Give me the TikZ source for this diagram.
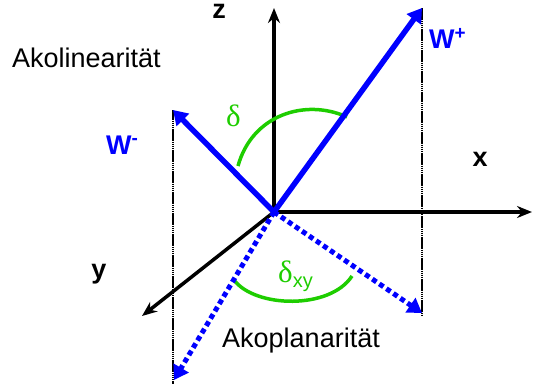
\documentclass[tikz,border=0pt]{standalone}
\usepackage{fontspec}
\setmainfont{Liberation Sans}
\newfontfamily\grkfont{Liberation Serif}
\usetikzlibrary{arrows.meta}
\definecolor{wBlue}{RGB}{0,0,255}
\definecolor{dGreen}{RGB}{30,205,0}

\begin{document}
\begin{tikzpicture}[x=1pt, y=-1pt,
    axis/.style={line width=3.5pt, -{Stealth[length=15pt,width=12pt]}},
    wvec/.style={wBlue, line width=5.5pt, -{Triangle[length=14pt,width=17pt]}},
    wproj/.style={wBlue, line width=5pt, dash pattern=on 5pt off 3.5pt, -{Triangle[length=14pt,width=17pt]}},
    drop/.style={line width=1.2pt, dash pattern=on 1.6pt off 0.5pt},
    angarc/.style={dGreen, line width=3.5pt},
    lbl/.style={inner sep=0pt, anchor=base west, font=\fontsize{27}{30}\selectfont},
    axlbl/.style={inner sep=0pt, anchor=base, font=\fontsize{27}{30}\selectfont\bfseries},
    wlbl/.style={inner sep=0pt, anchor=base west, text=wBlue, font=\fontsize{27}{30}\selectfont\bfseries},
    anglbl/.style={inner sep=0pt, anchor=base west, text=dGreen, font=\fontsize{31}{33}\selectfont\grkfont}]
  \useasboundingbox (0,0) rectangle (534,385);

  % origin, axis ends, vector ends
  \coordinate (O) at (274,212);
  \coordinate (zTip) at (274,8);
  \coordinate (xTip) at (532,212);
  \coordinate (yTip) at (142,316);
  \coordinate (wp) at (422,8);
  \coordinate (wm) at (173,110);
  \coordinate (wpxy) at (422,313);
  \coordinate (wmxy) at (174,380);
  \coordinate (wpEnd) at (422,315);
  \coordinate (wmEnd) at (173,384);

  % drop lines
  \draw[drop] (wp) -- (wpEnd);
  \draw[drop] (wm) -- (wmEnd);

  % axes
  \draw[axis] (O) -- (zTip);
  \draw[axis] (O) -- (xTip);
  \draw[axis] (O) -- (yTip);

  % angles
  \coordinate (d1) at (238,166);
  \coordinate (d2) at (347,117);
  \coordinate (e1) at (234,280);
  \coordinate (e2) at (352,276);
  \draw[angarc] (d1) .. controls (252,115) and (305,98) .. (d2);
  \draw[angarc] (e1) .. controls (255,308) and (330,310) .. (e2);

  % W vectors and their projections
  \draw[wproj] (O) -- (wpxy);
  \draw[wproj] (O) -- (wmxy);
  \draw[wvec] (O) -- (wp);
  \draw[wvec] (O) -- (wm);

  % labels
  \node[axlbl] (zl) at (219,19) {z};
  \node[axlbl] (xl) at (480,166) {x};
  \node[axlbl] (yl) at (99,278) {y};
  \node[wlbl] (wpl) at (429,49) {W\textsuperscript{+}};
  \node[wlbl] (wml) at (106,154) {W\textsuperscript{-}};
  \node[anglbl] (dl) at (226,126) {δ};
  \node[anglbl] (dxyl) at (278,282) {δ\raisebox{-5pt}{\fontsize{20}{21}\selectfont\rmfamily xy}};
  \node[lbl] (akol) at (12,68) {Akolinearität};
  \node[lbl] (akop) at (222,347) {Akoplanarität};
\end{tikzpicture}
\end{document}
